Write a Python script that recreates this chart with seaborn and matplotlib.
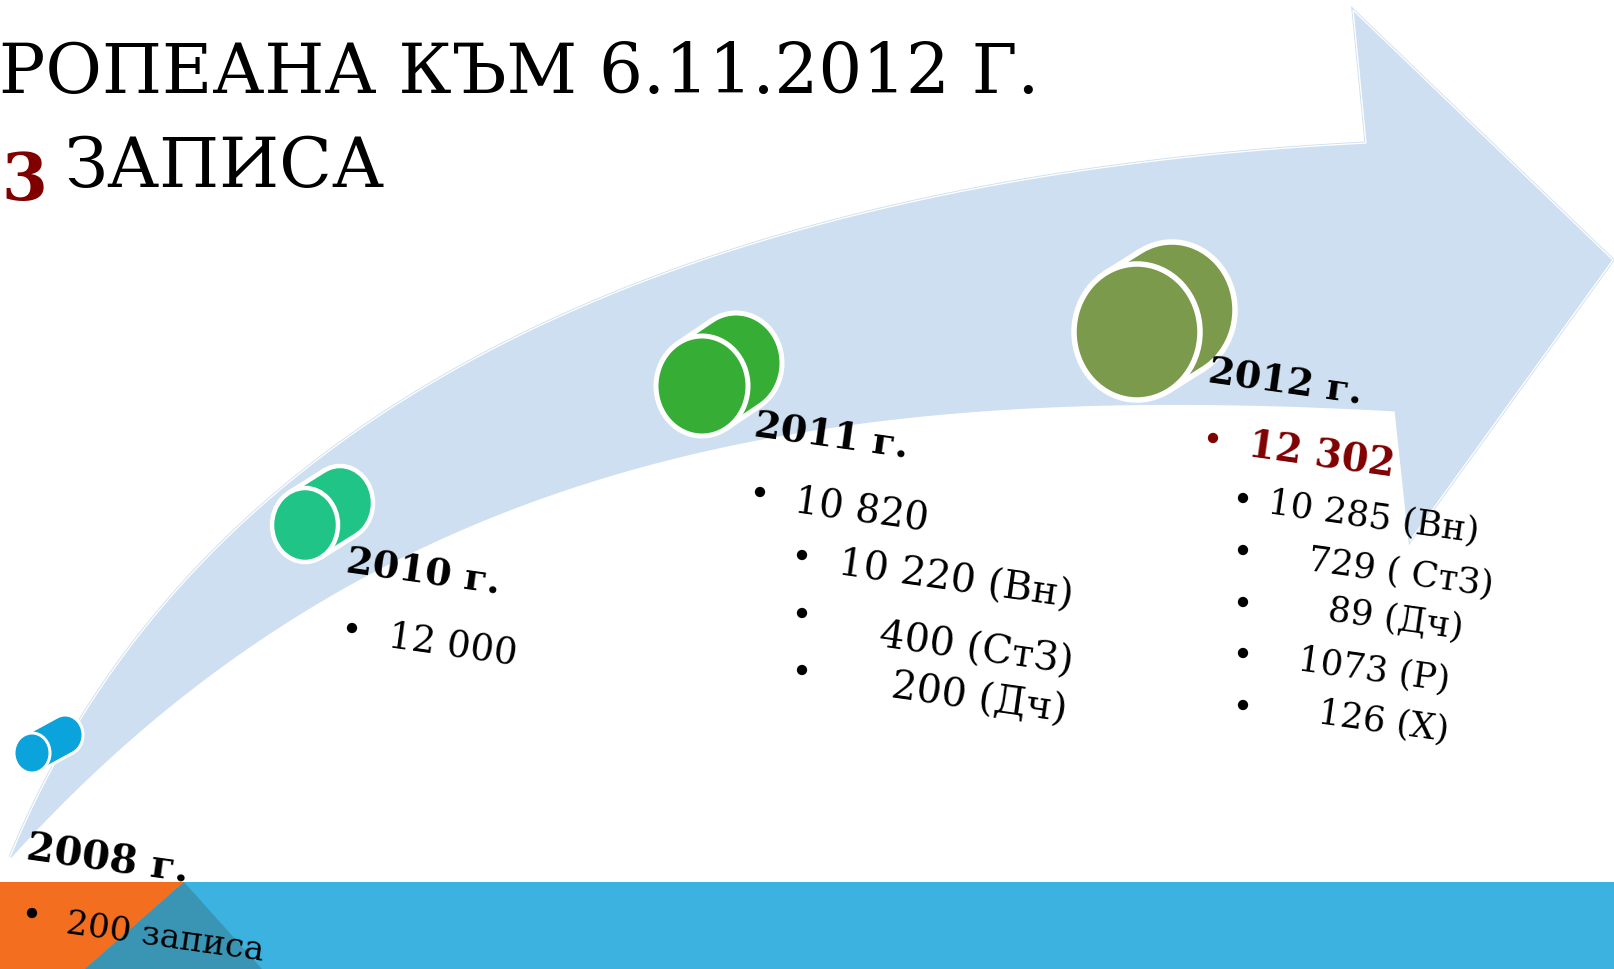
import numpy as np
import pandas as pd
import matplotlib
matplotlib.use("Agg")
import matplotlib.pyplot as plt
from matplotlib.patches import Polygon, Ellipse
import seaborn as sns

# ---------------- data ----------------
years = ["2008 г.", "2010 г.", "2011 г.", "2012 г."]
totals = [200, 12000, 10820, 12302]
parts_2011 = [10220, 400, 200]
codes_2011 = ["Вн", "СтЗ", "Дч"]
parts_2012 = [10285, 729, 89, 1073, 126]
codes_2012 = ["Вн", " СтЗ", "Дч", "Р", "Х"]
title_line1 = "РОПЕАНА КЪМ 6.11.2012 Г."
title_num = "3"
title_line2 = "ЗАПИСА"
unit_word = "записа"

# ---------------- style ----------------
sns.set_theme(style="white")
plt.rcParams["font.family"] = ["DejaVu Serif", "DejaVu Sans"]

W, H = 1614, 969
DPI = 100
PT = 72.0 / DPI  # px -> pt

fig = plt.figure(figsize=(W / DPI, H / DPI), dpi=DPI)
ax = fig.add_axes([0, 0, 1, 1])
ax.set_axis_off()

ARROW = "#CDDFF0"
BAND = "#3BB2DF"
ORANGE = "#F36E1F"
TEAL = "#3A95B5"
RED = "#800000"
cyl_colors = ["#0BA3DB", "#20C486", "#36AE36", "#7B9A4B"]


def bez(P0, P1, P2, P3, t):
    t = np.asarray(t)[:, None]
    return ((1 - t) ** 3 * P0 + 3 * (1 - t) ** 2 * t * P1
            + 3 * (1 - t) * t ** 2 * P2 + t ** 3 * P3)


def fit_bezier(pts, n=200):
    """Smooth cubic Bezier through traced edge points (fixed ends)."""
    P = np.asarray(pts, float)
    P0, P3 = P[0], P[-1]
    d = np.r_[0, np.cumsum(np.hypot(*np.diff(P, axis=0).T))]
    t = d / d[-1]
    for _ in range(12):
        A = np.c_[3 * (1 - t) ** 2 * t, 3 * (1 - t) * t ** 2]
        rhs = P - ((1 - t) ** 3)[:, None] * P0 - (t ** 3)[:, None] * P3
        sol, *_ = np.linalg.lstsq(A, rhs, rcond=None)
        P1, P2 = sol
        ts = np.linspace(0, 1, 2000)
        curve = bez(P0, P1, P2, P3, ts)
        idx = [np.argmin(np.hypot(*(curve - p).T)) for p in P]
        t = ts[idx]
        t[0], t[-1] = 0, 1
    return bez(P0, P1, P2, P3, np.linspace(0, 1, n))


# ---------------- curved arrow (layout) ----------------
upper = [(10, 857), (20, 830), (43, 780), (83, 713), (133, 647),
         (200, 567), (300, 477), (430, 380), (480, 352), (647, 280),
         (813, 230), (1000, 182), (1190, 158), (1366, 143)]
head = [(1353, 10), (1613, 260), (1410, 541)]
lower = [(1396, 410), (1190, 405), (1000, 412), (813, 430), (647, 460),
         (520, 503), (347, 580), (233, 663), (133, 740),
         (63, 813), (10, 857)]
up_s = fit_bezier(upper)
lo_s = fit_bezier(lower)
outline = np.vstack([up_s, np.array(head), lo_s])
ax.add_patch(Polygon(outline, closed=True, fc=ARROW, ec=ARROW,
                     lw=3 * PT, zorder=1))
rim = np.vstack([up_s, np.array(head)])
ax.plot(rim[:, 0], rim[:, 1], color="white", lw=1.3 * PT, zorder=2,
        solid_joinstyle="miter")

# ---------------- bottom band ----------------
ax.add_patch(Polygon([(0, 882), (W, 882), (W, H), (0, H)], closed=True,
                     fc=BAND, ec="none", zorder=1))
ax.add_patch(Polygon([(0, 882), (184, 882), (85, H), (0, H)], closed=True,
                     fc=ORANGE, ec="none", zorder=1.1))
ax.add_patch(Polygon([(184, 882), (85, H), (262, H)], closed=True,
                     fc=TEAL, ec="none", zorder=1.2))


# ---------------- cylinders ----------------
def cylinder(front, back, rx, ry, color, lw_px):
    fx, fy = front
    bx, by = back
    dx, dy = bx - fx, by - fy
    t0 = np.arctan2(-ry * dx, rx * dy)
    ts = [t0, t0 + np.pi]
    fp = [(fx + rx * np.cos(t), fy + ry * np.sin(t)) for t in ts]
    bp = [(bx + rx * np.cos(t), by + ry * np.sin(t)) for t in ts]
    lw = lw_px * PT
    ax.add_patch(Ellipse(back, 2 * rx, 2 * ry, fc=color, ec="white",
                         lw=lw, zorder=3))
    ax.add_patch(Polygon([fp[0], bp[0], bp[1], fp[1]], closed=True,
                         fc=color, ec="none", zorder=3.1))
    for a, b in zip(fp, bp):
        ax.plot([a[0], b[0]], [a[1], b[1]], color="white", lw=lw,
                solid_capstyle="round", zorder=3.2)
    ax.add_patch(Ellipse(front, 2 * rx, 2 * ry, fc=color, ec="white",
                         lw=lw, zorder=3.3))


cyl_front = [(32, 753), (305, 525), (702, 386), (1137, 332)]
cyl_back = [(65, 735), (340, 503), (736, 363), (1172, 310)]
cyl_rx = [18, 33, 46, 63]
cyl_ry = [20, 37, 50, 68]
cyl_lw = [3, 4.5, 5, 5.5]
for i in range(len(years)):
    cylinder(cyl_front[i], cyl_back[i], cyl_rx[i], cyl_ry[i],
             cyl_colors[i], cyl_lw[i])


# ---------------- text helpers ----------------
def fmt(v):
    return f"{v:,}".replace(",", " ") if v >= 10000 else str(v)


ROT = -8


def put(s, x, y, size_px, bold=False, color="black"):
    ax.text(x, y, s, fontsize=size_px * PT, fontweight="bold" if bold else "normal",
            color=color, ha="left", va="baseline", rotation=ROT,
            rotation_mode="anchor", zorder=5)


# title
ax.text(-1, 93, title_line1, fontsize=69 * PT, color="black",
        ha="left", va="baseline", zorder=5)
ax.text(1, 200, title_num, fontsize=66 * PT, fontweight="bold", color=RED,
        ha="left", va="baseline", zorder=5)
ax.text(64, 187, title_line2, fontsize=69 * PT, color="black",
        ha="left", va="baseline", zorder=5)

# year headings
year_pos = [(25, 860), (345, 572), (753, 436), (1207, 382)]
year_px = [40, 38, 38, 38]
for i, yl in enumerate(years):
    put(yl, *year_pos[i], year_px[i], bold=True)

# 2008
put(f"{fmt(totals[0])} {unit_word}", 65, 933, 34)
# 2010
put(fmt(totals[1]), 387, 647, 37)
# 2011
put(fmt(totals[2]), 793, 513, 38.5)
pos_2011 = [(837, 575), (878, 647), (890, 698)]
for (x, y), v, c in zip(pos_2011, parts_2011, codes_2011):
    put(f"{fmt(v)} ({c})", x, y, 39.5)
# 2012
put(fmt(totals[3]), 1247, 457, 38.5, bold=True, color=RED)
pos_2012 = [(1267, 513), (1307, 570), (1327, 620), (1297, 670), (1317, 723)]
for (x, y), v, c in zip(pos_2012, parts_2012, codes_2012):
    put(f"{fmt(v)} ({c})", x, y, 35.5)

# bullets
bullets = pd.DataFrame({
    "x": [32, 352, 760, 802, 802, 802, 1213, 1243, 1243, 1243, 1243, 1243],
    "y": [913, 628, 492, 555, 613, 670, 438, 498, 550, 602, 653, 705],
    "kind": ["k"] * 6 + ["r"] + ["k"] * 5,
})
sns.scatterplot(data=bullets, x="x", y="y", hue="kind",
                palette={"k": "black", "r": RED}, s=55, edgecolor="none",
                legend=False, ax=ax, zorder=5)

ax.set_xlim(0, W)
ax.set_ylim(H, 0)
ax.set_axis_off()
fig.savefig("out.png", dpi=DPI)
